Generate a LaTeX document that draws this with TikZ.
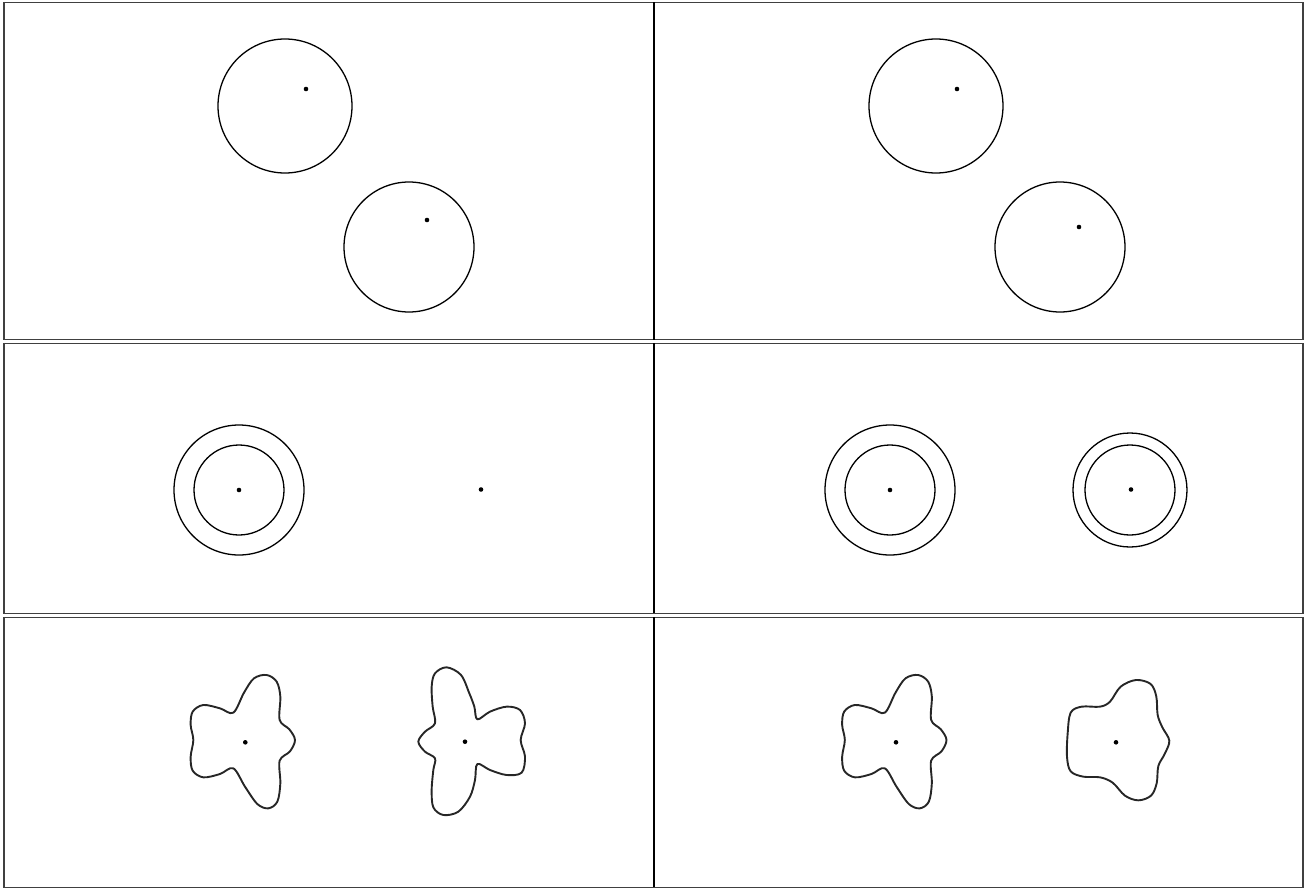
\documentclass[tikz,border=0pt]{standalone}
\begin{document}
\begin{tikzpicture}[x=1pt,y=-1pt,
  frame/.style={draw=black!75,line width=1.4pt},
  divider/.style={draw=black,line width=2.8pt},
  ring/.style={draw=black,line width=1.3pt},
  blob/.style={draw=black!85,line width=1.9pt,line join=round},
  pt/.style={fill=black}]
\useasboundingbox (0,0) rectangle (1310,888);
% frames
\foreach \ya/\yb in {2.5/339.5, 343.3/613.3, 617.3/887.3}{
  \draw[frame] (4,\ya) rectangle (1303,\yb);
  \draw[divider] (654,\ya) -- (654,\yb);
}
% row 1
\draw[ring] (285,106) circle (67);
\fill[pt] (306,89) circle (2.3);
\draw[ring] (409,247) circle (65);
\fill[pt] (427,220) circle (2.3);
\draw[ring] (936,106) circle (67);
\fill[pt] (957,89) circle (2.3);
\draw[ring] (1060,247) circle (65);
\fill[pt] (1079,227) circle (2.3);
% row 2
\draw[ring] (239,490) circle (65);
\draw[ring] (239,490) circle (45);
\fill[pt] (239,490) circle (2.3);
\fill[pt] (481,489.5) circle (2.3);
\draw[ring] (890,490) circle (65);
\draw[ring] (890,490) circle (45);
\fill[pt] (890,490) circle (2.3);
\draw[ring] (1130,490) circle (57);
\draw[ring] (1130,490) circle (45);
\fill[pt] (1131,489.5) circle (2.3);
% row 3 blobs
\def\blobA{plot[smooth cycle,tension=0.55] coordinates {(290,45) (320,65) (331,110) (329,180) (358,208) (375,240) (360,274) (329,302) (331,370) (322,425) (295,445) (262,432) (225,380) (190,325) (150,342) (100,352) (68,332) (62,290) (70,240) (62,195) (68,155) (100,135) (150,145) (190,158) (222,98) (252,55)}}
\begin{scope}[shift={(170,660)},scale=1/3]
  \draw[blob] \blobA;
\end{scope}
\fill[pt] (245.3,742.3) circle (2.3);
\begin{scope}[shift={(821.5,660)},scale=1/3]
  \draw[blob] \blobA;
\end{scope}
\fill[pt] (896,742.3) circle (2.3);
\begin{scope}[shift={(400,660)},scale=1/3]
  \draw[blob] plot[smooth cycle,tension=0.55] coordinates {(140,22) (183,45) (208,100) (223,140) (232,178) (270,155) (320,140) (360,150) (375,190) (362,240) (375,290) (365,338) (320,345) (270,330) (232,312) (225,360) (210,410) (175,455) (130,465) (100,442) (95,390) (100,330) (105,295) (75,275) (55,245) (75,215) (105,190) (98,140) (95,80) (105,40)};
\end{scope}
\fill[pt] (465,741.7) circle (2.3);
\begin{scope}[shift={(1050,670)},scale=1/3]
  \draw[blob] plot[smooth cycle,tension=0.55] coordinates {(258,30) (302,42) (319,80) (323,135) (337,172) (358,212) (344,252) (325,288) (320,340) (303,377) (265,391) (225,377) (188,338) (150,322) (100,320) (62,304) (51,260) (53,190) (62,128) (95,110) (150,110) (180,95) (212,50)};
\end{scope}
\fill[pt] (1116,742.3) circle (2.3);
\end{tikzpicture}
\end{document}
